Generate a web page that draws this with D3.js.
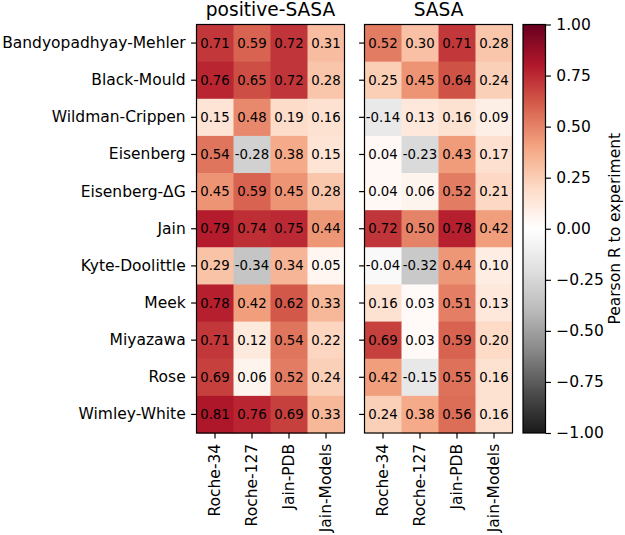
<!DOCTYPE html>
<html><head><meta charset="utf-8">
<script src="https://cdn.jsdelivr.net/npm/d3@7"></script>
<style>body{margin:0;background:#fff}svg{display:block}text{font-family:"DejaVu Sans",sans-serif;fill:#000}</style>
</head><body><svg id="c" width="625" height="535"></svg>
<script>
const rows = ["Bandyopadhyay-Mehler","Black-Mould","Wildman-Crippen","Eisenberg","Eisenberg-ΔG","Jain","Kyte-Doolittle","Meek","Miyazawa","Rose","Wimley-White"];
const cols = ["Roche-34","Roche-127","Jain-PDB","Jain-Models"];
const panelTitles = ["positive-SASA","SASA"];
const positiveSASA = [
 [0.71,0.59,0.72,0.31],[0.76,0.65,0.72,0.28],[0.15,0.48,0.19,0.16],[0.54,-0.28,0.38,0.15],
 [0.45,0.59,0.45,0.28],[0.79,0.74,0.75,0.44],[0.29,-0.34,0.34,0.05],[0.78,0.42,0.62,0.33],
 [0.71,0.12,0.54,0.22],[0.69,0.06,0.52,0.24],[0.81,0.76,0.69,0.33]];
const SASA = [
 [0.52,0.30,0.71,0.28],[0.25,0.45,0.64,0.24],[-0.14,0.13,0.16,0.09],[0.04,-0.23,0.43,0.17],
 [0.04,0.06,0.52,0.21],[0.72,0.50,0.78,0.42],[-0.04,-0.32,0.44,0.10],[0.16,0.03,0.51,0.13],
 [0.69,0.03,0.59,0.20],[0.42,-0.15,0.55,0.16],[0.24,0.38,0.56,0.16]];
const cbTicks = [1,0.75,0.5,0.25,0,-0.25,-0.5,-0.75,-1];
const cbLabel = "Pearson R to experiment";

// RdGy_r colormap (ColorBrewer anchors, linear segments like matplotlib)
const rdgy = ["#67001f","#b2182b","#d6604d","#f4a582","#fddbc7","#ffffff","#e0e0e0","#bababa","#878787","#4d4d4d","#1a1a1a"].reverse();
const color = d3.scaleLinear().domain(d3.range(11).map(i=>-1+i*0.2)).range(rdgy).interpolate(d3.interpolateRgb).clamp(true);

const svg = d3.select("#c");
const plotTop = 24.5, plotBottom = 433;
const TICK = 5.4, PAD = 5.4, FS = "15.5px";
const panels = [{x0:196.5,x1:344.5,data:positiveSASA},{x0:364.5,x1:512.5,data:SASA}];
const y = d3.scaleBand().domain(rows).range([plotTop,plotBottom]);

panels.forEach((p,pi)=>{
  const x = d3.scaleBand().domain(cols).range([p.x0,p.x1]);
  const g = svg.append("g");
  const cells = [];
  p.data.forEach((r,ri)=>r.forEach((v,ci)=>cells.push({row:rows[ri],col:cols[ci],v})));
  g.selectAll("rect.cell").data(cells).enter().append("rect")
    .attr("x",d=>x(d.col)).attr("y",d=>y(d.row))
    .attr("width",x.bandwidth()+0.5).attr("height",y.bandwidth()+0.5)
    .attr("fill",d=>color(d.v));
  g.selectAll("text.ann").data(cells).enter().append("text")
    .attr("x",d=>x(d.col)+x.bandwidth()/2).attr("y",d=>y(d.row)+y.bandwidth()/2)
    .attr("text-anchor","middle").attr("dominant-baseline","central")
    .style("font-size","13.3px").text(d=>d.v.toFixed(2));
  g.append("rect").attr("x",p.x0).attr("y",plotTop).attr("width",p.x1-p.x0).attr("height",plotBottom-plotTop)
    .attr("fill","none").attr("stroke","#000").attr("stroke-width",1.2);
  // y axis
  const ya = d3.axisLeft(y).tickSize(TICK).tickPadding(PAD);
  if(pi===1) ya.tickFormat("");
  const yg = g.append("g").attr("transform",`translate(${p.x0},0)`).call(ya);
  yg.select(".domain").remove();
  yg.selectAll("line").attr("stroke-width",1.2);
  yg.selectAll("text").style("font-size",FS).attr("fill","#000").style("font-family","DejaVu Sans");
  // x axis
  const xa = d3.axisBottom(x).tickSize(TICK).tickPadding(PAD);
  const xg = g.append("g").attr("transform",`translate(0,${plotBottom})`).call(xa);
  xg.select(".domain").remove();
  xg.selectAll("line").attr("stroke-width",1.2);
  xg.selectAll("text").style("font-size",FS).style("font-family","DejaVu Sans")
    .attr("text-anchor","end").attr("dominant-baseline","central")
    .attr("transform","rotate(-90)").attr("x",-(TICK+PAD)).attr("y",0).attr("dy",null);
  svg.append("text").attr("x",(p.x0+p.x1)/2).attr("y",plotTop-9).attr("text-anchor","middle")
    .style("font-size","18.6px").text(panelTitles[pi]);
});

// colorbar
const cbx0 = 523, cbx1 = 545.5;
const cy = d3.scaleLinear().domain([-1,1]).range([plotBottom,plotTop]);
const grad = svg.append("defs").append("linearGradient").attr("id","cbg")
  .attr("x1",0).attr("y1",1).attr("x2",0).attr("y2",0);
d3.range(0,1.0001,0.02).forEach(t=>grad.append("stop").attr("offset",t).attr("stop-color",color(-1+2*t)));
svg.append("rect").attr("x",cbx0).attr("y",plotTop).attr("width",cbx1-cbx0).attr("height",plotBottom-plotTop).attr("fill","url(#cbg)");
svg.append("rect").attr("x",cbx0).attr("y",plotTop).attr("width",cbx1-cbx0).attr("height",plotBottom-plotTop)
  .attr("fill","none").attr("stroke","#000").attr("stroke-width",1.2);
const cg = svg.append("g").attr("transform",`translate(${cbx1},0)`)
  .call(d3.axisRight(cy).tickValues(cbTicks).tickSize(TICK).tickPadding(PAD)
    .tickFormat(d=>d3.format(".2f")(d).replace("-","\u2212")));
cg.select(".domain").remove();
cg.selectAll("line").attr("stroke-width",1.2);
cg.selectAll("text").style("font-size",FS).style("font-family","DejaVu Sans").attr("fill","#000");
svg.append("text").attr("transform",`translate(615,${(plotTop+plotBottom)/2}) rotate(-90)`)
  .attr("text-anchor","middle").attr("dominant-baseline","central").style("font-size",FS).text(cbLabel);
</script></body></html>
